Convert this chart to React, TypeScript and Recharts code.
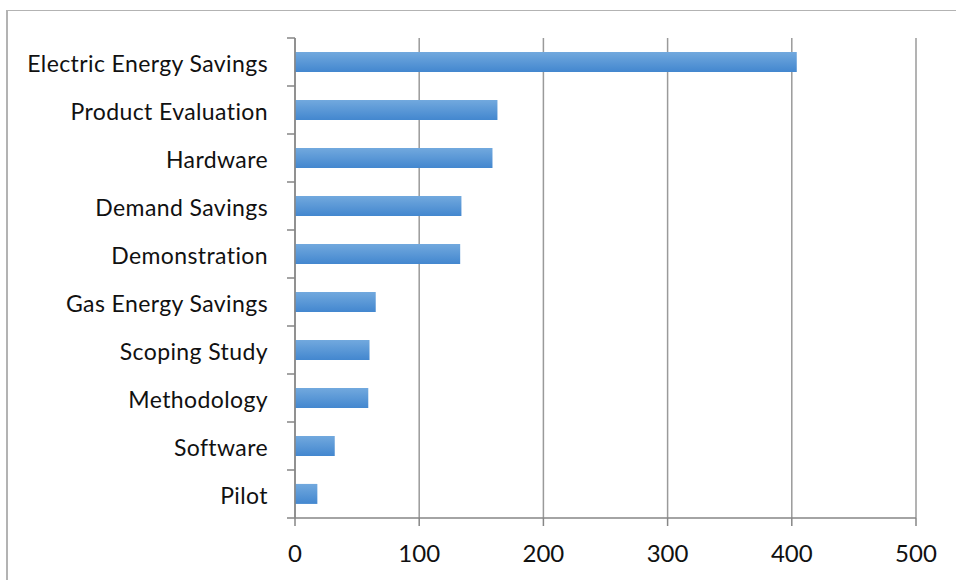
import React from "react";
import { BarChart, Bar, XAxis, YAxis, CartesianGrid } from "recharts";

const categories = [
  "Electric Energy Savings",
  "Product Evaluation",
  "Hardware",
  "Demand Savings",
  "Demonstration",
  "Gas Energy Savings",
  "Scoping Study",
  "Methodology",
  "Software",
  "Pilot",
];
const counts = [404, 163, 159, 134, 133, 65, 60, 59, 32, 18];
const xTicks = [0, 100, 200, 300, 400, 500];

const data = categories.map((name, i) => ({ name, value: counts[i] }));

const FONT = "Lato, 'Noto Sans', sans-serif";
const AXIS = "#868686";

const CatTick = (props: any) => {
  const { x, y, payload, index, visibleTicksCount } = props;
  const off = payload && payload.offset ? payload.offset : 24;
  const ax = x + 27;
  const last = index === (visibleTicksCount ?? categories.length) - 1;
  return (
    <g>
      <text
        x={x}
        y={y}
        dy={9.5}
        textAnchor="end"
        fill="#111"
        fontSize={23}
        letterSpacing={0.4}
        fontFamily={FONT}
      >
        {payload.value}
      </text>
      <line x1={ax - 8} x2={ax} y1={y - off} y2={y - off} stroke={AXIS} strokeWidth={1.5} />
      {last && (
        <line x1={ax - 8} x2={ax} y1={y + off} y2={y + off} stroke={AXIS} strokeWidth={1.5} />
      )}
    </g>
  );
};

export default function App() {
  return (
    <div style={{ position: "fixed", left: 0, top: 0, width: 956, height: 580, background: "#fff", overflow: "hidden" }}>
      <div style={{ position: "absolute", left: 0, top: 0 }}>
        <BarChart
          width={956}
          height={580}
          data={data}
          layout="vertical"
          margin={{ top: 38, right: 40, bottom: 32, left: 0 }}
          barCategoryGap="29%"
        >
          <defs>
            <linearGradient id="barGrad" x1="0" y1="0" x2="0" y2="1">
              <stop offset="0%" stopColor="#72a9de" />
              <stop offset="100%" stopColor="#4387cf" />
            </linearGradient>
          </defs>
          <CartesianGrid horizontal={false} stroke="#9a9a9a" strokeWidth={1.5} />
          <XAxis
            type="number"
            domain={[0, 500]}
            ticks={xTicks}
            height={30}
            tickSize={8}
            tickMargin={19}
            stroke={AXIS}
            tickLine={{ stroke: AXIS, strokeWidth: 1.5 }}
            axisLine={{ stroke: AXIS, strokeWidth: 1.5 }}
            tick={{ fill: "#111", fontSize: 24, fontFamily: FONT }}
          />
          <YAxis
            type="category"
            dataKey="name"
            width={295}
            tickSize={0}
            tickMargin={27}
            tickLine={false}
            axisLine={{ stroke: AXIS, strokeWidth: 1.5 }}
            tick={<CatTick />}
            interval={0}
          />
          <Bar dataKey="value" fill="url(#barGrad)" isAnimationActive={false} />
        </BarChart>
      </div>
      <div
        style={{
          position: "absolute",
          left: 6,
          top: 10,
          width: 1000,
          height: 1000,
          borderLeft: "2px solid #b3b3b3",
          borderTop: "1px solid #b3b3b3",
          pointerEvents: "none",
        }}
      />
    </div>
  );
}
